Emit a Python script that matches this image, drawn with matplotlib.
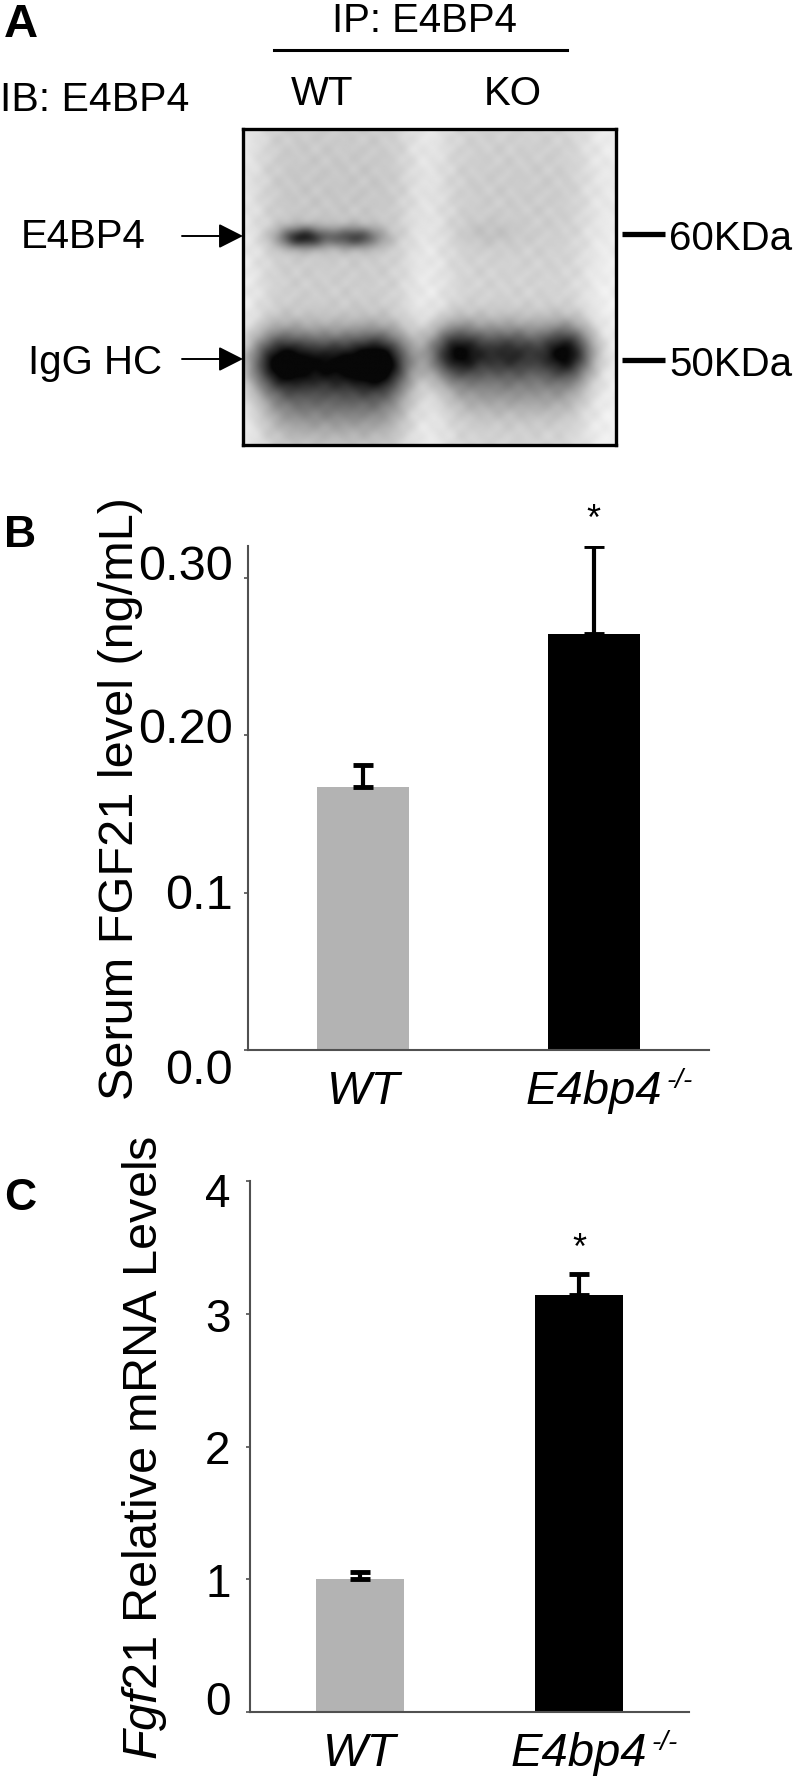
import numpy as np
import matplotlib
matplotlib.use("Agg")
import matplotlib.pyplot as plt
from matplotlib import font_manager as fm
from matplotlib.patches import FancyArrowPatch
from matplotlib.lines import Line2D
from matplotlib.transforms import ScaledTranslation

# ---------------- data ----------------
groups = ["WT", "E4bp4"]
group_sup = ["", "-/-"]
serum_fgf21 = [0.167, 0.264]
serum_fgf21_err = [0.014, 0.056]
mrna_fgf21 = [1.0, 3.14]
mrna_fgf21_err = [0.055, 0.16]
b_ticks = [0.0, 0.1, 0.2, 0.3]
b_ticklabels = ["0.0", "0.1", "0.20", "0.30"]
c_ticks = [0, 1, 2, 3, 4]
c_ticklabels = ["0", "1", "2", "3", "4"]
blot_lanes = ["WT", "KO"]
blot_markers = ["60KDa", "50KDa"]
blot_bands = ["E4BP4", "IgG HC"]

# ---------------- fonts ----------------
names = {f.name for f in fm.fontManager.ttflist}
NARROW = "Liberation Sans Narrow" if "Liberation Sans Narrow" in names else "Liberation Sans"
REG = "Liberation Sans"
plt.rcParams["font.family"] = [REG, "DejaVu Sans"]
plt.rcParams["mathtext.fontset"] = "custom"
plt.rcParams["mathtext.rm"] = NARROW
plt.rcParams["mathtext.it"] = NARROW + ":italic"

W, H = 800, 1783
fig = plt.figure(figsize=(W / 100, H / 100), dpi=100)


def fx(px):
    return px / W


def fy(py):
    return 1 - py / H


# ---------------- Panel A ----------------
fig.text(fx(4), fy(37), "A", fontsize=34, fontweight="bold", family=REG, va="baseline", ha="left")
fig.text(fx(424), fy(32), "IP: E4BP4", fontsize=29, family=REG, va="baseline", ha="center")
fig.add_artist(Line2D([fx(274), fx(567)], [fy(51), fy(51)], transform=fig.transFigure, color="black", lw=2.2))
fig.text(fx(0), fy(111), "IB: E4BP4", fontsize=29.5, family=REG, va="baseline", ha="left")
fig.text(fx(322), fy(105), blot_lanes[0], fontsize=29, family=REG, va="baseline", ha="center")
fig.text(fx(513), fy(105), blot_lanes[1], fontsize=29, family=REG, va="baseline", ha="center")

axA = fig.add_axes([fx(243), fy(446), (616 - 243) / W, (446 - 130) / H])
hh, ww = 320, 380
V, U = np.meshgrid(np.linspace(0, 1, hh), np.linspace(0, 1, ww), indexing="ij")


def g(x, m, s):
    return np.exp(-0.5 * ((x - m) / s) ** 2)


def lane(x, c, hw, soft):
    return 1 / (1 + np.exp((np.abs(x - c) - hw) / soft))


dark = 0.05 + 0.14 * lane(U, 0.245, 0.20, 0.025) + 0.12 * lane(U, 0.73, 0.19, 0.025)
dark = dark + 0.03 * g(V, 0.2, 0.15)
dark = dark + 0.012 * np.sin(U * 83 + V * 19) * np.sin(V * 71 - U * 13) + 0.01 * np.sin(U * 121) * np.cos(V * 97)
dark = dark + g(V, 0.343, 0.024) * (0.65 * g(U, 0.16, 0.045) + 0.5 * g(U, 0.30, 0.05))
dark = dark + 0.05 * g(V, 0.33, 0.03) * g(U, 0.66, 0.06)
dark = dark + g(V, 0.74, 0.065) * (0.8 * g(U, 0.10, 0.06) + 0.65 * g(U, 0.245, 0.07) + 0.8 * g(U, 0.37, 0.055))
dark = dark + 0.3 * g(V, 0.87, 0.07) * lane(U, 0.245, 0.17, 0.03)
dark = dark + g(V, 0.71, 0.06) * (0.75 * g(U, 0.57, 0.055) + 0.62 * g(U, 0.72, 0.07) + 0.75 * g(U, 0.87, 0.05))
dark = dark + 0.2 * g(V, 0.83, 0.06) * lane(U, 0.73, 0.17, 0.03)
img = 1 - np.clip(dark, 0, 0.97)
axA.imshow(img, cmap="gray", vmin=0, vmax=1, aspect="auto", interpolation="bilinear")
axA.set_xticks([])
axA.set_yticks([])
for s in axA.spines.values():
    s.set_linewidth(2.4)
    s.set_color("black")

band_y = [237, 360]
band_text_y = [248, 374]
band_text_x = [83, 95]
for name, by, bty, btx in zip(blot_bands, band_y, band_text_y, band_text_x):
    fig.text(fx(btx), fy(bty), name, fontsize=29, family=REG, va="baseline", ha="center")
    arr = FancyArrowPatch((fx(182), fy(by)), (fx(243), fy(by)), transform=fig.transFigure,
                          arrowstyle="-|>,head_length=0.75,head_width=0.38", mutation_scale=20,
                          color="black", lw=1.4, shrinkA=0, shrinkB=0)
    fig.add_artist(arr)

marker_y = [235, 361]
for name, my in zip(blot_markers, marker_y):
    fig.add_artist(Line2D([fx(622), fx(665)], [fy(my), fy(my)], transform=fig.transFigure,
                          color="black", lw=3.8, solid_capstyle="butt"))
    fig.text(fx(669), fy(my + 15), name, fontsize=29, family=REG, va="baseline", ha="left")


# ---------------- bar panels ----------------
def style_axes(ax):
    for side in ["top", "right"]:
        ax.spines[side].set_visible(False)
    for side in ["left", "bottom"]:
        ax.spines[side].set_color("#505050")
        ax.spines[side].set_linewidth(1.5)
    ax.tick_params(axis="y", direction="out", length=3, width=1.2, color="#505050")
    ax.tick_params(axis="x", length=0)


def shift_labels(labels, offsets_px):
    for lbl, dy in zip(labels, offsets_px):
        lbl.set_transform(lbl.get_transform() + ScaledTranslation(0, dy / 100, fig.dpi_scale_trans))


bar_colors = ["#b3b3b3", "#000000"]
xpos = np.arange(len(groups))

# Panel B
fig.text(fx(4), fy(547), "B", fontsize=32, fontweight="bold", family=REG, va="baseline", ha="left")
axB = fig.add_axes([fx(248), fy(1051), (709 - 248) / W, (1051 - 547) / H])
axB.bar(xpos, serum_fgf21, width=0.4, color=bar_colors, zorder=2)
axB.errorbar(xpos, serum_fgf21, yerr=[np.zeros(2), serum_fgf21_err], fmt="none", ecolor="black",
             elinewidth=3, capsize=7, capthick=3.5, zorder=3)
axB.set_xlim(-0.5, 1.5)
axB.set_ylim(0, 0.32)
style_axes(axB)
axB.set_yticks(b_ticks)
axB.set_yticklabels(b_ticklabels, family=NARROW, fontsize=35)
axB.tick_params(axis="y", pad=8)
shift_labels(axB.get_yticklabels(), [-16, 2, 10, 16])
axB.set_xticks(xpos)
axB.set_xticklabels(groups, family=NARROW, fontsize=34, style="italic")
axB.tick_params(axis="x", pad=14)
axB.annotate(group_sup[1], xy=(1, 1), xycoords=axB.get_xticklabels()[1], xytext=(3, 2),
             textcoords="offset points", ha="left", va="top", fontsize=20, family=NARROW, style="italic")
axB.set_ylabel("Serum FGF21 level (ng/mL)", family=NARROW, fontsize=35, va="center")
axB.yaxis.set_label_coords((121 - 248) / (709 - 248), 0.5)
axB.text(1, 0.337, "*", ha="center", va="center", fontsize=26, family=REG, clip_on=False)

# Panel C
fig.text(fx(4), fy(1210), "C", fontsize=32, fontweight="bold", family=REG, va="baseline", ha="left")
axC = fig.add_axes([fx(250), fy(1713), (689 - 250) / W, (1713 - 1182) / H])
axC.bar(xpos, mrna_fgf21, width=0.4, color=bar_colors, zorder=2)
axC.errorbar(xpos, mrna_fgf21, yerr=[np.zeros(2), mrna_fgf21_err], fmt="none", ecolor="black",
             elinewidth=3, capsize=7, capthick=3.5, zorder=3)
axC.set_xlim(-0.5, 1.5)
axC.set_ylim(0, 4)
style_axes(axC)
axC.set_yticks(c_ticks)
axC.set_yticklabels(c_ticklabels, family=NARROW, fontsize=33)
axC.tick_params(axis="y", pad=11)
shift_labels(axC.get_yticklabels(), [15, 0, 0, 0, -8])
axC.set_xticks(xpos)
axC.set_xticklabels(groups, family=NARROW, fontsize=34, style="italic")
axC.tick_params(axis="x", pad=14)
axC.annotate(group_sup[1], xy=(1, 1), xycoords=axC.get_xticklabels()[1], xytext=(3, 2),
             textcoords="offset points", ha="left", va="top", fontsize=20, family=NARROW, style="italic")
axC.set_ylabel(r"$\mathit{Fgf21}$ Relative mRNA Levels", family=NARROW, fontsize=35, va="center")
axC.yaxis.set_label_coords((145 - 250) / (689 - 250), 0.5)
axC.text(1, 3.49, "*", ha="center", va="center", fontsize=26, family=REG, clip_on=False)

fig.savefig("out.png", dpi=100)
